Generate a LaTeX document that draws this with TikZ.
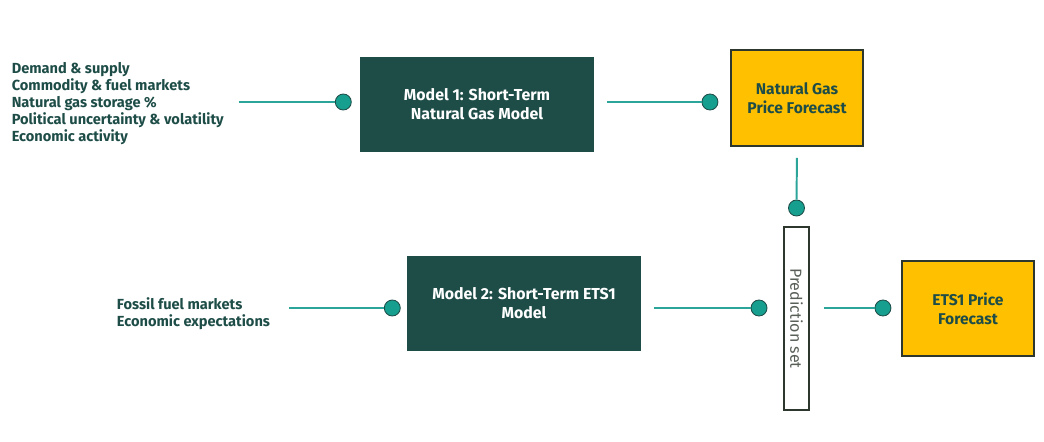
\documentclass[tikz,border=0pt]{standalone}
\usepackage{fontspec}
\setmainfont{Fira Sans}
\usepackage{tikz}
\usepackage{xcolor}
\usetikzlibrary{shapes,arrows,positioning}
\definecolor{deepteal}{RGB}{30, 77, 72}
\definecolor{linkteal}{RGB}{43, 165, 154}
\definecolor{dotteal}{RGB}{22, 158, 142}
\definecolor{amber}{RGB}{255, 192, 0}
\definecolor{frame}{RGB}{45, 55, 45}
\tikzstyle{model} = [
    rectangle,
    minimum width=5.85cm,
    minimum height=2.375cm,
    text centered,
    align=center,
    fill=deepteal,
    text=white,
    font=\bfseries\fontsize{11.3}{13.5}\selectfont
]
\tikzstyle{forecast} = [
    rectangle,
    minimum width=3.3cm,
    minimum height=2.4cm,
    text centered,
    align=center,
    draw=frame,
    line width=0.9pt,
    fill=amber,
    text=deepteal,
    font=\bfseries\fontsize{11.1}{13.5}\selectfont
]
\tikzstyle{inputs} = [
    align=left,
    text=deepteal,
    font=\bfseries\fontsize{10.4}{12.1}\selectfont
]
\tikzstyle{dot} = [
    circle,
    minimum size=0.4cm,
    inner sep=0pt,
    draw=deepteal,
    line width=0.6pt,
    fill=dotteal,
    anchor=east
]
\tikzstyle{link} = [
    line width=1.4pt,
    draw=linkteal
]

\begin{document}
\begin{tikzpicture}[
        node distance=0.25cm,
        every node/.style={
            font=\fontsize{9.6}{12}\selectfont
        }
    ]
        \useasboundingbox (0,0) rectangle (26.1,-11.025);
        \coordinate (row1) at (0,-2.55);
        \coordinate (row2) at (0,-7.7);

        \node[model] (model1) at (11.925,-2.6125) {Model 1: Short-Term\\Natural Gas Model};
        \node[model] (model2) at (13.1,-7.5875) {Model 2: Short-Term ETS1\\Model};
        \node[forecast] (gasfc) at (19.925,-2.45) {Natural Gas\\Price Forecast};
        \node[forecast, minimum height=2.375cm] (etsfc) at (24.2,-7.7125) {ETS1 Price\\Forecast};
        \node[rectangle, draw=frame, line width=0.8pt, fill=white, minimum width=0.625cm,
            minimum height=4.575cm, inner sep=0pt] (predset) at (19.9125,-7.9625) {};
        \node[rotate=-90, text=frame!80, font=\fontsize{11.4}{13}\selectfont] (predlabel) at (predset) {Prediction set};

        \node[inputs, anchor=west] (in1) at (0.17,-2.6) {
            Demand \& supply\\Commodity \& fuel markets\\Natural gas storage \%\\Political uncertainty \& volatility\\Economic activity
        };
        \node[inputs, anchor=west] (in2) at (2.8,-7.85) {
            Fossil fuel markets\\Economic expectations
        };

        % connector dots
        \node[dot] (d1) at ([xshift=-0.2cm]model1.west |- row1) {};
        \node[dot] (d2) at ([xshift=-0.3cm]gasfc.west |- row1) {};
        \node[dot, anchor=center, above=0.25cm of predset] (d3) {};
        \node[dot] (d4) at ([xshift=-0.15cm]model2.west |- row2) {};
        \node[dot] (d5) at ([xshift=-0.4cm]predset.west |- row2) {};
        \node[dot] (d6) at ([xshift=-0.25cm]etsfc.west |- row2) {};

        \draw[link, shorten <=0.25cm] (in1.east |- d1) -- (d1);
        \draw[link, shorten <=0.33cm] (model1.east |- d2) -- (d2);
        \draw[link, shorten <=0.28cm] (gasfc.south) -- (d3);
        \draw[link, shorten <=0.35cm] (in2.east |- d4) -- (d4);
        \draw[link, shorten <=0.33cm] (model2.east |- d5) -- (d5);
        \draw[link, shorten <=0.35cm] (predset.east |- d6) -- (d6);
    \end{tikzpicture}
\end{document}
